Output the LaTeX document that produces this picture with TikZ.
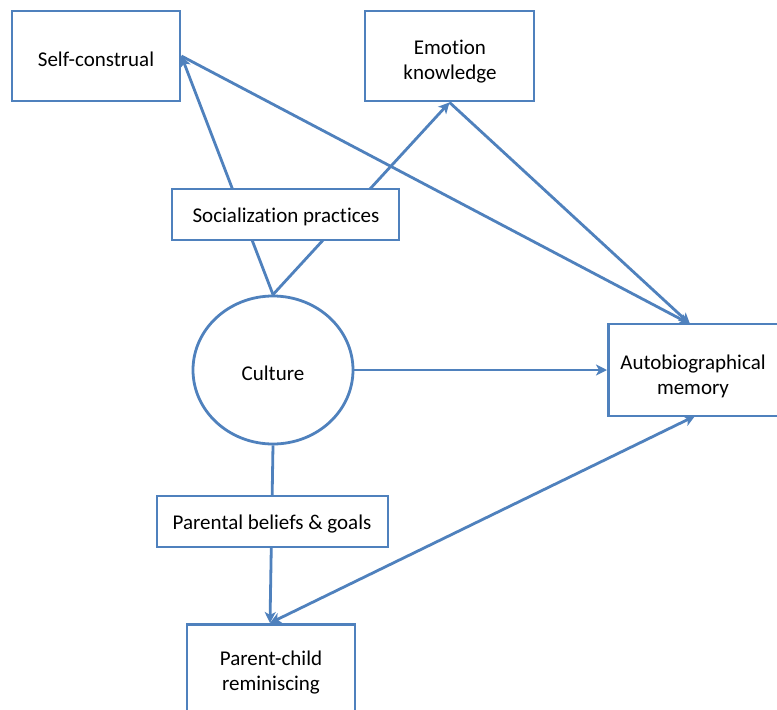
\documentclass[tikz,border=0pt]{standalone}
\usepackage{fontspec}
\setmainfont{Carlito}[Ligatures=NoCommon]
\usetikzlibrary{shapes.geometric,arrows.meta}
\pgfdeclarelayer{bg}
\pgfdeclarelayer{paper}
\pgfsetlayers{paper,bg,main}
\definecolor{office}{RGB}{79,129,189}
\tikzset{
  box/.style={draw=office, line width=2.8pt, fill=white, inner sep=0pt},
  lbl/.style={align=center, inner sep=0pt, font=\fontsize{21}{25}\selectfont},
  conn/.style={draw=office, line width=2.8pt, -{Stealth[length=11pt,width=11pt,inset=3pt]}},
  conn2/.style={draw=office, line width=2.8pt, {Stealth[length=11pt,width=11pt,inset=3pt]}-{Stealth[length=11pt,width=11pt,inset=3pt]}}
}
\begin{document}
\begin{tikzpicture}[x=1pt,y=-1pt]
\clip (0,0) rectangle (777,710);
\begin{pgfonlayer}{paper}
\fill[white] (0,0) rectangle (777,710);
\end{pgfonlayer}
% nodes
\node[box, minimum width=168pt, minimum height=90pt] (sc) at (96,56) {};
\node[lbl] (sct) at (96,59) {Self-construal};
\node[box, minimum width=169pt, minimum height=90pt] (em) at (449.5,56) {};
\node[lbl] (emt) at (450,62) {Emotion\\knowledge};
\node[box, minimum width=227pt, minimum height=51pt] (sp) at (285.5,214.5) {};
\node[lbl] (spt) at (286,217) {Socialization practices};
\node[box, ellipse, minimum width=160pt, minimum height=148pt] (cu) at (273,370) {};
\node[lbl] (cut) at (273,373) {Culture};
\node[box, minimum width=190pt, minimum height=92pt, anchor=west] (am) at (607,370) {};
\node[lbl] (amt) at (693,376) {Autobiographical\\memory};
\node[box, minimum width=231pt, minimum height=51pt] (pb) at (272.5,521.5) {};
\node[lbl] (pbt) at (272,524) {Parental beliefs \& goals};
\node[box, minimum width=168pt, minimum height=110pt, anchor=north] (pc) at (271,623) {};
\node[lbl] (pct) at (271,673) {Parent-child\\reminiscing};
\coordinate (amtop) at (690,324);
\coordinate (ambot) at (695,416);
\coordinate (pctop) at (270,623);
% connectors
\begin{pgfonlayer}{bg}
\draw[conn] (cu.north) -- (sc.east);
\draw[conn] (cu.north) -- (em.south);
\draw[conn] (sc.east) -- (amtop);
\draw[conn] (em.south) -- (amtop);
\draw[conn] (cu.east) -- (am.west);
\draw[conn] (cu.south) -- (pctop);
\draw[conn2] (pctop) -- (ambot);
\end{pgfonlayer}
\end{tikzpicture}
\end{document}
